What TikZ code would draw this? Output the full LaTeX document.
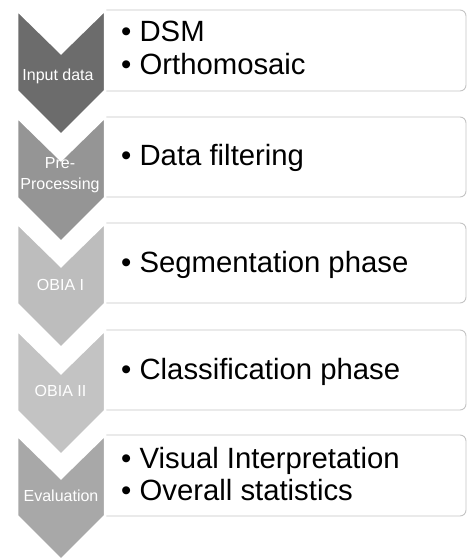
\documentclass[tikz,border=0pt]{standalone}
\usepackage{fontspec}
\setmainfont{Liberation Sans}
\usepackage{xcolor}
\usepackage{tikz}
\usetikzlibrary{positioning}

\definecolor{stageA}{HTML}{6C6C6C}
\definecolor{stageB}{HTML}{959595}
\definecolor{stageC}{HTML}{BDBDBD}
\definecolor{stageD}{HTML}{C3C3C3}
\definecolor{stageE}{HTML}{A8A8A8}
\definecolor{boxline}{HTML}{C4C4C4}

\tikzset{
  stage/.style={fill=#1, draw=white, line width=2.5pt, line join=miter},
  stagelabel/.style={text=white, align=center, inner sep=0pt,
    font=\fontsize{16}{21}\selectfont},
  itembox/.style={draw=boxline, fill=white, line width=0.9pt},
  itemtext/.style={anchor=west, align=left, inner sep=0pt,
    font=\fontsize{29.3}{32.5}\selectfont},
}

% chevron: top y, colour
\newcommand{\stagearrow}[2]{%
  \filldraw[stage=#2] (17,#1) -- (61,#1+43) -- (105,#1) -- (105,#1+81)
    -- (61,#1+125) -- (17,#1+81) -- cycle;}
% text box: top y, bottom y
\newcommand{\itemframe}[2]{%
  \filldraw[itembox, rounded corners=6pt] (105,#2) -- (466,#2) -- (466,#1) -- (105,#1);
  \draw[itembox] (105,#1) -- (105,#2);}

\begin{document}
\begin{tikzpicture}[x=1pt, y=-1pt]
  \useasboundingbox (0,0) rectangle (468,560);

  % Input data
  \itemframe{10}{91}
  \stagearrow{10}{stageA}
  \node[stagelabel] (input) at (58,76) {Input data};
  \node[itemtext] (inputitems) at (121,48) {• DSM\\• Orthomosaic};

  % Pre-processing
  \itemframe{117}{197}
  \stagearrow{117}{stageB}
  \node[stagelabel] (prep) at (60,175) {Pre-\\Processing};
  \node[itemtext] (prepitems) at (121,158) {• Data filtering};

  % OBIA I
  \itemframe{223}{303}
  \stagearrow{223}{stageC}
  \node[stagelabel] (obiaone) at (60.5,284.5) {OBIA I};
  \node[itemtext] (obiaoneitems) at (121,265) {• Segmentation phase};

  % OBIA II
  \itemframe{330}{410}
  \stagearrow{330}{stageD}
  \node[stagelabel] (obiatwo) at (60.5,391) {OBIA II};
  \node[itemtext] (obiatwoitems) at (121,372) {• Classification phase};

  % Evaluation
  \itemframe{435}{516}
  \stagearrow{435}{stageE}
  \node[stagelabel] (eval) at (61,496) {Evaluation};
  \node[itemtext] (evalitems) at (121,474) {• Visual Interpretation\\• Overall statistics};
\end{tikzpicture}
\end{document}
